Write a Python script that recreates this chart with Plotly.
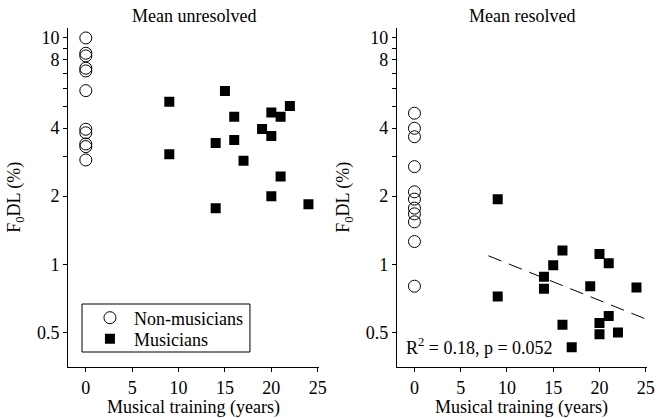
import plotly.graph_objects as go

# ---- data ----
unres_non_x = [0]*11
unres_non_y = [10.0, 8.56, 8.33, 7.35, 7.15, 5.85, 3.95, 3.81, 3.40, 3.31, 2.89]
unres_mus_x = [9, 9, 14, 15, 16, 16, 17, 19, 20, 20, 21, 22, 21, 20, 14, 24]
unres_mus_y = [5.23, 3.06, 3.43, 5.83, 4.49, 3.54, 2.87, 3.96, 4.68, 3.69, 4.49, 5.0, 2.44, 2.0, 1.77, 1.84]

res_non_x = [0]*11
res_non_y = [4.65, 3.99, 3.66, 2.70, 2.09, 1.94, 1.77, 1.67, 1.54, 1.26, 0.80]
res_mus_x = [9, 9, 14, 14, 15, 16, 16, 17, 19, 20, 21, 20, 20, 21, 22, 24]
res_mus_y = [1.94, 0.72, 0.88, 0.78, 0.99, 1.15, 0.54, 0.43, 0.80, 1.11, 1.01, 0.55, 0.49, 0.59, 0.50, 0.79]

fit_x = [8, 25]
fit_y = [1.09, 0.573]

y_tickvals = [0.5, 1, 2, 3, 4, 5, 6, 7, 8, 9, 10]
y_ticktext = ["0.5", "1", "2", "", "4", "", "", "", "8", "", "10"]
x_tickvals = [0, 5, 10, 15, 20, 25]

W, H = 665, 418
FONT = "Liberation Serif"
FS = 18

def px(x):
    return x / W

def py(y):
    return 1 - y / H

circle = dict(symbol="circle-open", size=12, color="black", line=dict(width=1, color="black"))
square = dict(symbol="square", size=10, color="black")

fig = go.Figure()
fig.add_trace(go.Scatter(x=unres_non_x, y=unres_non_y, mode="markers", marker=circle,
                         name="Non-musicians", xaxis="x", yaxis="y", legend="legend"))
fig.add_trace(go.Scatter(x=unres_mus_x, y=unres_mus_y, mode="markers", marker=square,
                         name="Musicians", xaxis="x", yaxis="y", legend="legend2"))
fig.add_trace(go.Scatter(x=res_non_x, y=res_non_y, mode="markers", marker=circle,
                         showlegend=False, xaxis="x2", yaxis="y2"))
fig.add_trace(go.Scatter(x=res_mus_x, y=res_mus_y, mode="markers", marker=square,
                         showlegend=False, xaxis="x2", yaxis="y2"))
fig.add_trace(go.Scatter(x=fit_x, y=fit_y, mode="lines",
                         line=dict(color="black", width=1, dash="14px,8px"),
                         showlegend=False, xaxis="x2", yaxis="y2"))

ydom = [py(367), py(28)]
tf = dict(family=FONT, size=FS, color="black")
common_x = dict(range=[-1.9, 25.15], tickvals=x_tickvals, ticks="outside", ticklen=4,
                tickcolor="black", showline=True, linecolor="black", linewidth=1,
                showgrid=False, zeroline=False, tickfont=tf)
common_y = dict(type="log", range=[-0.454, 1.044], tickvals=y_tickvals, ticktext=y_ticktext,
                ticks="outside", ticklen=4, tickcolor="black", showline=True, linecolor="black",
                linewidth=1, showgrid=False, zeroline=False, domain=ydom, tickfont=tf)

leg_common = dict(xanchor="left", yanchor="middle", bgcolor="rgba(0,0,0,0)", borderwidth=0,
                  font=tf, itemwidth=38)

fig.update_layout(
    width=W, height=H,
    margin=dict(l=0, r=0, t=0, b=0),
    paper_bgcolor="white", plot_bgcolor="white",
    font=tf,
    xaxis=dict(domain=[px(69), px(323)], anchor="y", **common_x),
    yaxis=dict(anchor="x", **common_y),
    xaxis2=dict(domain=[px(401.7), px(655)], anchor="y2", **common_x),
    yaxis2=dict(anchor="x2", **common_y),
    showlegend=True,
    legend=dict(x=px(87), y=py(318), **leg_common),
    legend2=dict(x=px(87), y=py(339), **leg_common),
    shapes=[dict(type="rect", xref="paper", yref="paper",
                 x0=px(83), x1=px(253), y0=py(352), y1=py(304),
                 line=dict(color="black", width=1), fillcolor="rgba(0,0,0,0)")],
)

ann = []
ann.append(dict(text="Mean unresolved", x=px(196), y=py(16), xref="paper", yref="paper",
                showarrow=False, xanchor="center", yanchor="middle"))
ann.append(dict(text="Mean resolved", x=px(528), y=py(16), xref="paper", yref="paper",
                showarrow=False, xanchor="center", yanchor="middle"))
for cx in (196, 528):
    ann.append(dict(text="Musical training (years)", x=px(cx), y=py(407), xref="paper", yref="paper",
                    showarrow=False, xanchor="center", yanchor="middle"))
for cx in (15, 348):
    ann.append(dict(text="F<sub>0</sub>DL (%)", x=px(cx), y=py(197), xref="paper", yref="paper",
                    showarrow=False, xanchor="center", yanchor="middle", textangle=-90))
ann.append(dict(text="R<sup>2</sup> = 0.18, p = 0.052", x=px(409), y=py(346), xref="paper", yref="paper",
                showarrow=False, xanchor="left", yanchor="middle"))
fig.update_layout(annotations=ann)

fig.write_html("out.html")
